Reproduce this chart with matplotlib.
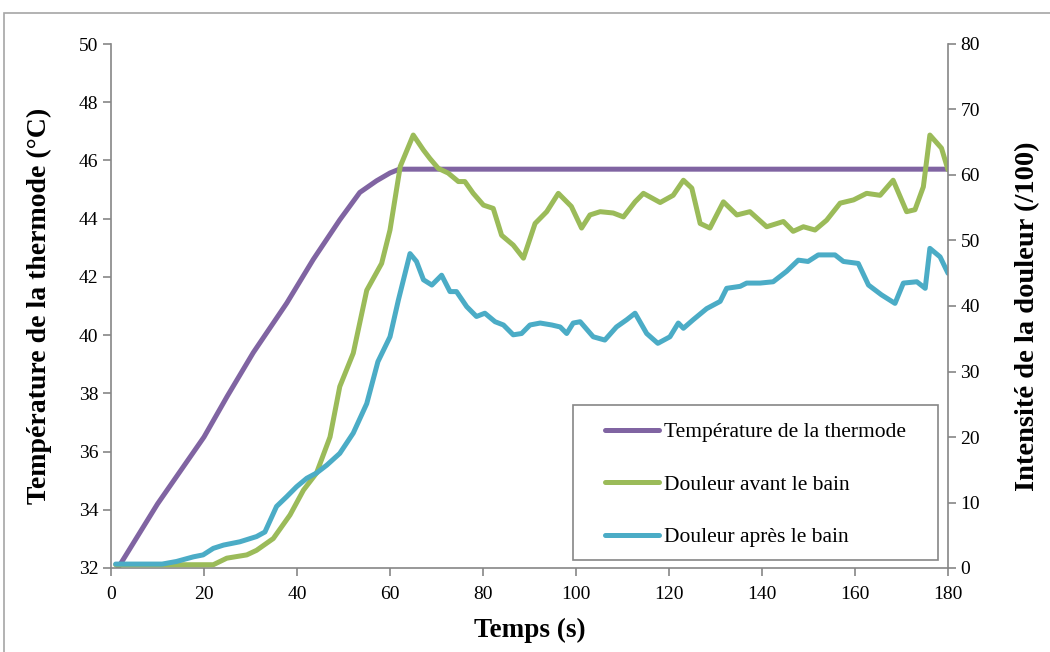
import matplotlib.pyplot as plt
from matplotlib.patches import Rectangle

# temperature of the thermode (left axis)
t_temp = [1.5, 10, 20, 25, 30.6, 37.8, 43.5, 49.2, 53.5, 57.1, 60, 62, 180]
temp = [32.0, 34.2, 36.5, 37.9, 39.4, 41.1, 42.6, 43.96, 44.9, 45.3, 45.57, 45.7, 45.7]

# pain before the bath (right axis)
t_avant = [1, 10, 22, 24.9, 29.2, 31.3, 34.9, 38.5, 41.4, 44.2, 47.1, 49.2, 52.1, 55, 58.2, 60,
           62.2, 65, 67.2, 68.6, 70.4, 72.5, 74.7, 76.1, 77.9, 80.1, 82.2, 84, 86.5, 88.7, 91.2,
           93.7, 96.2, 99, 101.2, 103, 105.2, 108, 110.2, 112.7, 114.5, 118.1, 120.9, 123.1,
           124.9, 126.7, 128.8, 131.7, 134.6, 137.4, 141, 144.6, 146.7, 148.9, 151.4, 153.9,
           156.8, 159.7, 162.5, 165.4, 168.2, 171.1, 172.9, 174.7, 176.1, 178.6, 180]
avant = [0.5, 0.5, 0.5, 1.5, 2.0, 2.7, 4.5, 8.1, 11.9, 14.5, 20, 27.7, 32.8, 42.4, 46.5, 51.6,
         61.3, 66.1, 63.8, 62.5, 61, 60.3, 59, 59, 57.2, 55.4, 54.9, 50.8, 49.3, 47.3, 52.6,
         54.4, 57.2, 55.2, 51.9, 53.9, 54.4, 54.2, 53.6, 55.9, 57.2, 55.8, 56.9, 59.2,
         58, 52.6, 51.9, 55.9, 53.9, 54.4, 52.1, 52.9, 51.4, 52.1, 51.6, 53.1,
         55.7, 56.2, 57.2, 56.9, 59.2, 54.4, 54.7, 58.2, 66.1, 64.1, 60.8]

# pain after the bath (right axis)
t_apres = [1, 11, 14.1, 17.7, 19.8, 22, 24.2, 27.7, 31.3, 33.1, 35.6, 37.8, 39.9, 42.1, 44.2,
           46.4, 49.2, 52.1, 55, 57.4, 60, 61.8, 64.3, 65.7, 67.2, 69, 71.1, 72.9, 74.3, 76.5,
           78.6, 80.4, 82.6, 84.4, 86.5, 88.3, 90.1, 92.3, 94.8, 96.6, 98, 99.4, 100.9, 103.7,
           106.2, 108.7, 110.9, 112.7, 115.2, 117.6, 120.2, 122, 123.1, 125.2, 128.1, 131,
           132.4, 135.3, 136.7, 139.6, 142.4, 145.3, 147.8, 149.9, 152.1, 155.7, 157.5, 160.7,
           162.9, 165.7, 168.6, 170.4, 173.3, 175.1, 176.1, 178.3, 180]
apres = [0.6, 0.6, 1.0, 1.7, 2.0, 3.0, 3.5, 4.0, 4.8, 5.5, 9.4, 10.9, 12.4, 13.7, 14.5,
         15.7, 17.5, 20.6, 25.1, 31.5, 35.3, 40.9, 48, 46.8, 44, 43.2, 44.7, 42.2, 42.2, 39.9,
         38.4, 38.9, 37.6, 37.1, 35.6, 35.8, 37.1, 37.4, 37.1, 36.8, 35.8, 37.4, 37.6, 35.3,
         34.8, 36.8, 37.9, 38.9, 35.8, 34.3, 35.3, 37.4, 36.6, 37.9, 39.6, 40.7,
         42.7, 43, 43.5, 43.5, 43.7, 45.3, 47, 46.8, 47.8, 47.8, 46.8, 46.5,
         43.2, 41.7, 40.4, 43.5, 43.7, 42.7, 48.8, 47.5, 45]

labels = ["Température de la thermode", "Douleur avant le bain", "Douleur après le bain"]
colors = ["#8064a2", "#9bbb59", "#4bacc6"]

plt.rcParams['font.family'] = ['Liberation Serif', 'DejaVu Serif']
grey = "#868686"

fig = plt.figure(figsize=(10.5, 6.52), dpi=100)
fig.patches.append(Rectangle((4 / 1050, -0.1), 1.2, (652 - 13) / 652 + 0.1,
                             transform=fig.transFigure, fill=False,
                             edgecolor="#a6a6a6", linewidth=1.2))

ax = fig.add_axes([111 / 1050, 84 / 652, 837 / 1050, 524 / 652])
ax2 = ax.twinx()

style = dict(lw=3.6, solid_capstyle='round', solid_joinstyle='round')
l1, = ax.plot(t_temp, temp, color=colors[0], label=labels[0], **style)
l2, = ax2.plot(t_avant, avant, color=colors[1], label=labels[1], **style)
l3, = ax2.plot(t_apres, apres, color=colors[2], label=labels[2], **style)

ax.set_xlim(0, 180)
ax.set_ylim(32, 50)
ax2.set_ylim(0, 80)
ax.set_xticks(range(0, 181, 20))
ax.set_yticks(range(32, 51, 2))
ax2.set_yticks(range(0, 81, 10))

for a in (ax, ax2):
    a.spines['top'].set_visible(False)
    for s in ('left', 'right', 'bottom'):
        a.spines[s].set_color(grey)
        a.spines[s].set_linewidth(1.2)
    a.tick_params(colors=grey, labelcolor='black', labelsize=14, length=6, width=1.2, pad=3)
ax.tick_params(axis='x', pad=7)
ax.spines['right'].set_visible(False)
ax2.spines['left'].set_visible(False)
ax2.spines['bottom'].set_visible(False)

ax.set_xlabel("Temps (s)", fontsize=19.5, fontweight='bold')
ax.set_ylabel("Température de la thermode (°C)", fontsize=20, fontweight='bold')
ax2.set_ylabel("Intensité de la douleur (/100)", fontsize=20.5, fontweight='bold')
ax.xaxis.set_label_coords(0.5, -0.095)
ax.yaxis.set_label_coords(-0.071, 0.5)
ax2.yaxis.set_label_coords(1.08, 0.481)

# legend box
ax2.add_patch(Rectangle((0.552, 0.015), 0.436, 0.296, transform=ax2.transAxes,
                        facecolor='white', edgecolor=grey, linewidth=1.2, zorder=5))
leg = ax2.legend(handles=[l1, l2, l3], loc='center',
                 bbox_to_anchor=(0.552 + 0.436 / 2, 0.015 + 0.296 / 2 - 0.004),
                 fontsize=15.5, frameon=False, borderaxespad=0,
                 handlelength=2.5, handletextpad=0.2, labelspacing=1.5,
                 borderpad=0)
leg.set_zorder(6)

fig.savefig("out.png", dpi=100)
